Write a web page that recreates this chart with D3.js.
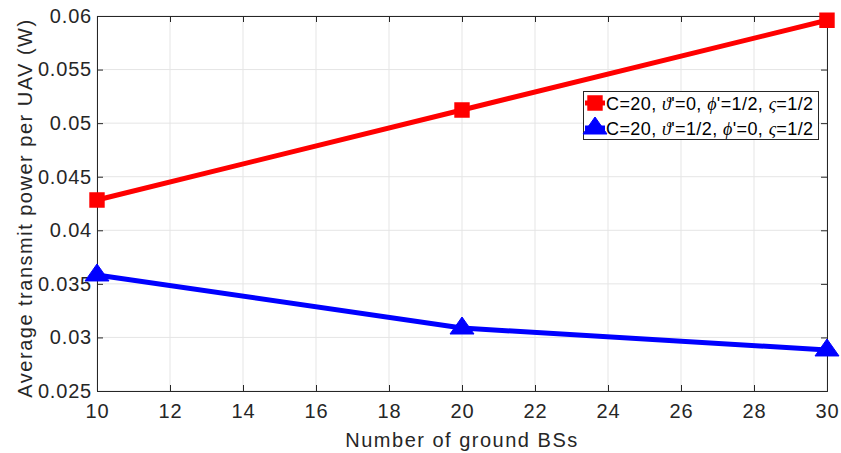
<!DOCTYPE html>
<html><head><meta charset="utf-8">
<script src="https://cdn.jsdelivr.net/npm/d3@7"></script>
<style>body{margin:0;background:#fff}svg{display:block}</style>
</head><body>
<svg id="c" width="841" height="453"></svg>
<script>
const xValues = [10, 20, 30];
const redValues = [0.04283, 0.05123, 0.0596];
const blueValues = [0.03583, 0.03088, 0.02883];
const xTicks = [10, 12, 14, 16, 18, 20, 22, 24, 26, 28, 30];
const yTicks = [0.025, 0.03, 0.035, 0.04, 0.045, 0.05, 0.055, 0.06];
const xLabel = "Number of ground BSs";
const yLabel = "Average transmit power per UAV (W)";

const svg = d3.select("#c");
const L = 97, R = 827, T = 16, B = 391;
const x = d3.scaleLinear().domain([10, 30]).range([L, R]);
const y = d3.scaleLinear().domain([0.025, 0.06]).range([B, T]);
const font = "'Liberation Sans', Arial, sans-serif";

// grid
svg.append("g").selectAll("line").data(xTicks).join("line")
  .attr("x1", d => x(d)).attr("x2", d => x(d)).attr("y1", T).attr("y2", B)
  .attr("stroke", "#e5e5e5").attr("stroke-width", 1);
svg.append("g").selectAll("line").data(yTicks).join("line")
  .attr("y1", d => y(d)).attr("y2", d => y(d)).attr("x1", L).attr("x2", R)
  .attr("stroke", "#e5e5e5").attr("stroke-width", 1);

// axes
const axB = d3.axisBottom(x).tickValues(xTicks).tickSize(-6).tickPadding(13).tickFormat(d3.format("d"));
const axL = d3.axisLeft(y).tickValues(yTicks).tickSize(-6).tickPadding(5).tickFormat(d => String(+d.toFixed(3)));
const axT = d3.axisTop(x).tickValues(xTicks).tickSize(-6).tickFormat("");
const axR = d3.axisRight(y).tickValues(yTicks).tickSize(-6).tickFormat("");
function style(g){
  g.select(".domain").attr("stroke", "#262626").attr("stroke-width", 1);
  g.selectAll(".tick line").attr("stroke", "#262626");
  g.selectAll("text").attr("font-family", font).attr("font-size", 20).attr("letter-spacing", 0.8).attr("fill", "#262626");
}
svg.append("g").attr("transform", `translate(0,${B})`).call(axB).call(style);
svg.append("g").attr("transform", `translate(${L},0)`).call(axL).call(style);
svg.append("g").attr("transform", `translate(0,${T})`).call(axT).call(style);
svg.append("g").attr("transform", `translate(${R},0)`).call(axR).call(style);

// titles
svg.append("text").attr("x", 462).attr("y", 447).attr("text-anchor", "middle")
  .attr("font-family", font).attr("font-size", 20).attr("letter-spacing", 1.5).attr("fill", "#262626").text(xLabel);
svg.append("text").attr("transform", `translate(32,208) rotate(-90)`).attr("text-anchor", "middle")
  .attr("font-family", font).attr("font-size", 20).attr("letter-spacing", 1.5).attr("fill", "#262626").text(yLabel);

// lines
const line = d3.line().x((d, i) => x(xValues[i])).y(d => y(d));
svg.append("path").datum(redValues).attr("d", line).attr("fill", "none").attr("stroke", "#ff0000").attr("stroke-width", 5);
svg.append("path").datum(blueValues).attr("d", line).attr("fill", "none").attr("stroke", "#0000ff").attr("stroke-width", 5);

const sq = d3.symbol().type(d3.symbolSquare).size(180);
const triType = { draw(ctx, size) { ctx.moveTo(0, -11); ctx.lineTo(12, 6); ctx.lineTo(-12, 6); ctx.closePath(); } };
const tri = d3.symbol().type(triType);
svg.append("g").selectAll("path").data(redValues).join("path")
  .attr("d", sq).attr("transform", (d, i) => `translate(${x(xValues[i])},${y(d)})`)
  .attr("fill", "#ff0000").attr("stroke", "#ff0000").attr("stroke-width", 2);
svg.append("g").selectAll("path").data(blueValues).join("path")
  .attr("d", tri).attr("transform", (d, i) => `translate(${x(xValues[i])},${y(d)})`)
  .attr("fill", "#0000ff").attr("stroke", "#0000ff").attr("stroke-width", 1);

// legend
const lg = svg.append("g");
lg.append("rect").attr("x", 583.5).attr("y", 91.5).attr("width", 235).attr("height", 48)
  .attr("fill", "#fff").attr("stroke", "#262626").attr("stroke-width", 1);
const items = [
  {c: "#ff0000", sym: sq, sw: 2, parts: [["C=20, ", 0], ["ϑ", 1], ["'=0, ", 0], ["ϕ", 1], ["'=1/2, ", 0], ["ς", 1], ["=1/2", 0]], cy: 103},
  {c: "#0000ff", sym: tri, sw: 1, parts: [["C=20, ", 0], ["ϑ", 1], ["'=1/2, ", 0], ["ϕ", 1], ["'=0, ", 0], ["ς", 1], ["=1/2", 0]], cy: 128}
];
items.forEach(it => {
  lg.append("line").attr("x1", 585).attr("x2", 605).attr("y1", it.cy).attr("y2", it.cy).attr("stroke", it.c).attr("stroke-width", 5);
  lg.append("path").attr("d", it.sym).attr("transform", `translate(595,${it.cy})`)
    .attr("fill", it.c).attr("stroke", it.c).attr("stroke-width", it.sw);
  const t = lg.append("text").attr("x", 606).attr("y", it.cy + 7).attr("font-family", font)
    .attr("font-size", 18).attr("letter-spacing", 0.4).attr("fill", "#000");
  it.parts.forEach(p => {
    const s = t.append("tspan").text(p[0]);
    if (p[1]) s.attr("font-family", "'Liberation Serif', 'DejaVu Serif', serif").attr("font-style", "italic");
  });
});
</script>
</body></html>
